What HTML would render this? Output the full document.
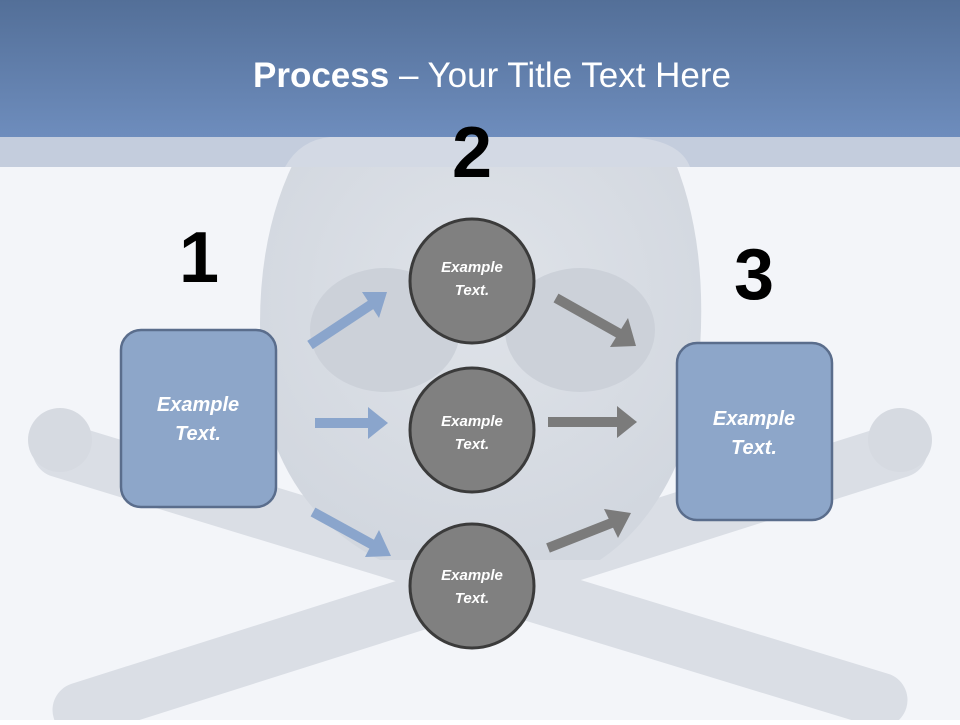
<!DOCTYPE html>
<html><head><style>
body{margin:0;width:960px;height:720px;overflow:hidden;font-family:"Liberation Sans",sans-serif}
</style></head><body>
<svg width="960" height="720" xmlns="http://www.w3.org/2000/svg">
<defs>
<linearGradient id="hd" x1="0" y1="0" x2="0" y2="1"><stop offset="0" stop-color="#536f98"/><stop offset="1" stop-color="#6e8dbd"/></linearGradient>
<radialGradient id="sk" cx="0.5" cy="0.4" r="0.6"><stop offset="0" stop-color="#dfe3e9"/><stop offset="1" stop-color="#d2d7df"/></radialGradient>
</defs>
<rect width="960" height="720" fill="#f3f5f9"/>
<g stroke="#dadee5" stroke-linecap="round" fill="none">
<line x1="60" y1="450" x2="880" y2="700" stroke-width="55"/>
<line x1="900" y1="450" x2="80" y2="710" stroke-width="55"/>
</g>
<circle cx="60" cy="440" r="32" fill="#d6dae1"/><circle cx="900" cy="440" r="32" fill="#d6dae1"/>
<path d="M300 150 Q480 90 670 150 Q720 260 690 430 Q660 520 600 560 L380 560 Q300 520 270 430 Q240 260 300 150Z" fill="url(#sk)"/>
<ellipse cx="385" cy="330" rx="75" ry="62" fill="#ccd1d9"/>
<ellipse cx="580" cy="330" rx="75" ry="62" fill="#ccd1d9"/>
<rect x="0" y="0" width="960" height="137" fill="url(#hd)"/>
<rect x="0" y="137" width="960" height="30" fill="#c4cddd"/>
<path d="M285 167 Q300 140 330 137 L630 137 Q680 140 690 167Z" fill="#d3d9e4"/>
<text x="492" y="87" text-anchor="middle" font-size="35" fill="#fff"><tspan font-weight="bold">Process</tspan> – Your Title Text Here</text>
<g font-weight="bold" font-size="72" text-anchor="middle" fill="#000">
<text x="472" y="177">2</text><text x="199" y="282">1</text><text x="754" y="299">3</text>
</g>
<g stroke-width="10" fill="none">
<g stroke="#8aa5cc"><line x1="310" y1="345" x2="372" y2="304"/><line x1="315" y1="423" x2="370" y2="423"/><line x1="313" y1="512" x2="375" y2="546"/></g>
<g stroke="#7b7b7b"><line x1="556" y1="298" x2="620" y2="334"/><line x1="548" y1="422" x2="620" y2="422"/><line x1="548" y1="548" x2="614" y2="522"/></g>
</g>
<g fill="#8aa5cc"><polygon points="387,292 362,292 379,318"/><polygon points="388,423 368,407 368,439"/><polygon points="391,556 379,530 365,557"/></g>
<g fill="#7b7b7b"><polygon points="636,346 628,318 610,347"/><polygon points="637,422 617,406 617,438"/><polygon points="631,513 604,509 618,538"/></g>
<rect x="121" y="330" width="155" height="177" rx="20" fill="#8da6c9" stroke="#5a6d8c" stroke-width="2.5"/>
<rect x="677" y="343" width="155" height="177" rx="20" fill="#8da6c9" stroke="#5a6d8c" stroke-width="2.5"/>
<g fill="#fff" font-style="italic" font-weight="bold" font-size="20" text-anchor="middle">
<text x="198" y="411">Example</text><text x="198" y="440">Text.</text>
<text x="754" y="425">Example</text><text x="754" y="454">Text.</text>
</g>
<g fill="#808080" stroke="#3b3b3b" stroke-width="3">
<circle cx="472" cy="281" r="62"/><circle cx="472" cy="430" r="62"/><circle cx="472" cy="586" r="62"/>
</g>
<g fill="#fff" font-style="italic" font-weight="bold" font-size="15" text-anchor="middle">
<text x="472" y="272">Example</text><text x="472" y="295">Text.</text>
<text x="472" y="426">Example</text><text x="472" y="449">Text.</text>
<text x="472" y="580">Example</text><text x="472" y="603">Text.</text>
</g>
</svg>
</body></html>
